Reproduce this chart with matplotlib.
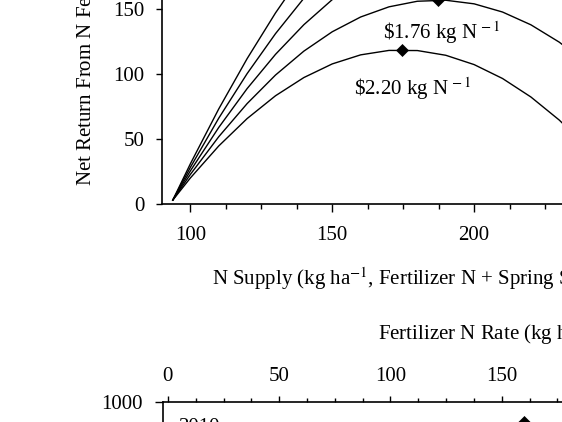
import matplotlib
matplotlib.use("Agg")
import matplotlib.pyplot as plt
from matplotlib.ticker import MultipleLocator

plt.rcParams['font.family'] = ['Liberation Serif', 'DejaVu Serif']
plt.rcParams['mathtext.fontset'] = 'stix'
plt.rcParams['font.size'] = 15

# N supply (kg/ha)
n_supply = [93.8, 100, 110, 120, 130, 140, 150, 160, 170, 180, 190,
            200, 210, 220, 230, 240, 250]

# net return ($/ha) for each fertilizer N price ($/kg N)
n_prices = [0.44, 0.88, 1.32, 1.76, 2.20]
return_044 = [3, 30.94, 73.15, 111.82, 146.97, 178.59, 206.67, 231.23, 252.26,
              269.75, 283.72, 294.16, 301.06, 304.44, 304.28, 300.60, 293.39]
return_088 = [3, 28.21, 66.02, 100.30, 131.04, 158.26, 181.95, 202.10, 218.73,
              231.82, 241.39, 247.43, 249.93, 248.91, 244.36, 236.27, 224.66]
return_132 = [3, 25.49, 58.89, 88.77, 115.11, 137.93, 157.22, 172.97, 185.20,
              193.90, 199.06, 200.70, 198.81, 193.38, 184.43, 171.94, 155.93]
return_176 = [3, 22.76, 51.76, 77.24, 99.19, 117.60, 132.49, 143.85, 151.67,
              155.97, 156.73, 153.97, 147.68, 137.85, 124.50, 107.62, 87.20]
return_220 = [3, 20.03, 44.64, 65.71, 83.26, 97.27, 107.76, 114.72, 118.14,
              118.04, 114.41, 107.24, 96.55, 82.33, 64.57, 43.29, 18.48]
returns = [return_044, return_088, return_132, return_176, return_220]

# economic optimum for each price (diamonds)
opt_n = [224.6, 212.1, 199.6, 187.2, 174.7]
opt_return = [304.8, 250.0, 200.7, 156.9, 118.5]

# lower panel (only its top edge is visible)
fert_opt_n = [160]
fert_opt_yield = [930]

W, H = 562, 422
fig = plt.figure(figsize=(W / 100, H / 100), dpi=100)

# ---- top panel ----
ax1 = fig.add_axes([162 / W, 218 / H, 454 / W, 390 / H])
for r in returns:
    ax1.plot(n_supply, r, color='black', lw=1.0)
ax1.plot(opt_n, opt_return, 'D', color='black', ms=6.5, mew=0.5)

ax1.text(188.6, 132, r'\$1.76 kg N$^{\,-1}$', ha='center', va='center')
ax1.text(178.4, 89, r'\$2.20 kg N$^{\,-1}$', ha='center', va='center')

ax1.set_xlim(90, 250)
ax1.set_ylim(0, 300)
ax1.set_xticks([100, 150, 200, 250])
ax1.xaxis.set_minor_locator(MultipleLocator(12.5))
ax1.set_yticks(range(0, 301, 50))
ax1.tick_params(axis='x', which='major', direction='out', length=6, width=1, pad=10)
ax1.tick_params(axis='x', which='minor', direction='out', length=3.6, width=1)
ax1.tick_params(axis='y', direction='out', length=4.3, width=1, pad=8.5)
ax1.spines['top'].set_visible(False)
ax1.spines['right'].set_visible(False)
for s in ['left', 'bottom']:
    ax1.spines[s].set_linewidth(1.2)

fig.text(212 / W, 1 - 285 / H,
         'N Supply (kg ha$^{-1}$, Fertilizer N + Spring Soil NO$_3$-N)',
         ha='left', va='baseline')
fig.text(85 / W, 1 - 186 / H, r'Net Return From N Fertilizer (\$ ha$^{-1}$)',
         rotation=90, ha='center', va='bottom')

# ---- bottom panel ----
ax2 = fig.add_axes([163 / W, (H - 402 - 280) / H, 450 / W, 280 / H])
ax2.plot(fert_opt_n, fert_opt_yield, 'D', color='black', ms=6.5, mew=0.5)
ax2.set_xlim(-2.2, 200)
ax2.set_ylim(0, 1000)
ax2.xaxis.tick_top()
ax2.set_xticks([0, 50, 100, 150, 200])
ax2.xaxis.set_minor_locator(MultipleLocator(12.5))
ax2.set_yticks(range(0, 1001, 200))
ax2.tick_params(axis='x', which='major', direction='out', length=4.3, width=1, pad=7)
ax2.tick_params(axis='x', which='minor', direction='out', length=2.9, width=1)
ax2.tick_params(axis='y', direction='out', length=5.8, width=1, pad=9)
ax2.spines['bottom'].set_visible(False)
ax2.spines['right'].set_visible(False)
for s in ['left', 'top']:
    ax2.spines[s].set_linewidth(1.2)
ax2.text(178 / W, 1 - 418 / H, '2010', transform=fig.transFigure, va='top')

fig.text(378 / W, 1 - 340 / H, 'Fertilizer N Rate (kg ha$^{-1}$)',
         ha='left', va='baseline')
fig.text(73 / W, 1 - 420 / H, 'Grain Yield (kg ha$^{-1}$)',
         rotation=90, ha='center', va='top')

fig.savefig('out.png', dpi=100)
